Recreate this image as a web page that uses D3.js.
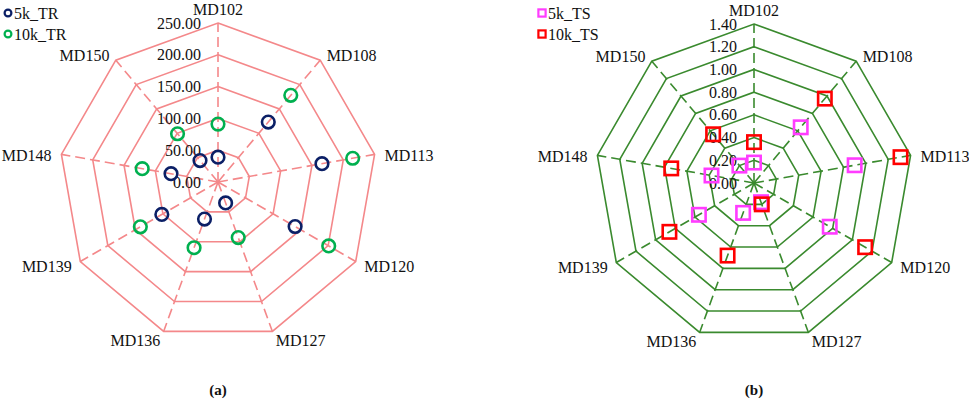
<!DOCTYPE html>
<html><head><meta charset="utf-8">
<script src="https://cdn.jsdelivr.net/npm/d3@7"></script>
<style>body{margin:0;background:#fff;}svg{display:block;}</style>
</head><body>
<svg id="c" width="969" height="399"></svg>
<script>
const categories = ["MD102","MD108","MD113","MD120","MD127","MD136","MD139","MD148","MD150"];
const tr5k  = [39, 123, 166, 140, 35, 62, 102, 75, 44];
const tr10k = [91, 178, 215, 201, 93, 110, 141, 121, 99];
const ts5k  = [0.18, 0.64, 0.90, 0.77, 0.18, 0.28, 0.56, 0.38, 0.20];
const ts10k = [0.36, 0.97, 1.31, 1.13, 0.20, 0.68, 0.86, 0.74, 0.56];
const ticksA = [0, 50, 100, 150, 200, 250];
const ticksB = [0, 0.2, 0.4, 0.6, 0.8, 1.0, 1.2, 1.4];
const seriesA = [{name:"5k_TR", values: tr5k, color:"#0b1f66"}, {name:"10k_TR", values: tr10k, color:"#00b04f"}];
const seriesB = [{name:"5k_TS", values: ts5k, color:"#ff3cff"}, {name:"10k_TS", values: ts10k, color:"#ff0000"}];

const svg = d3.select("#c");
const font = "'Liberation Serif','Times New Roman',serif";
const R = 159;

function radar(opts){
  const {cx, cy, ticks, series, gridColor, marker, legendX, caption} = opts;
  const g = svg.append("g").attr("transform", `translate(${cx},${cy})`);
  const r = d3.scaleLinear().domain([0, d3.max(ticks)]).range([0, R]);
  const ang = d3.scaleLinear().domain([0, categories.length]).range([0, 2*Math.PI]);
  const pt = (i, v) => [r(v)*Math.sin(ang(i)), -r(v)*Math.cos(ang(i))];
  // rings
  ticks.slice(1).forEach(t => {
    g.append("polygon")
      .attr("points", categories.map((c,i)=>pt(i,t).join(",")).join(" "))
      .attr("fill","none").attr("stroke",gridColor).attr("stroke-width",1.6);
  });
  // spokes
  categories.forEach((c,i)=>{
    const [x,y] = pt(i, d3.max(ticks));
    g.append("line").attr("x1",0).attr("y1",0).attr("x2",x).attr("y2",y)
      .attr("stroke",gridColor).attr("stroke-width",1.6).attr("stroke-dasharray","10,5");
  });
  // tick labels
  ticks.forEach(t=>{
    g.append("text").attr("x",-17).attr("y",-r(t)).attr("text-anchor","end")
      .attr("dominant-baseline","central").attr("font-family",font).attr("font-size",16)
      .attr("fill","#111").text(t.toFixed(2));
  });
  // category labels
  categories.forEach((c,i)=>{
    const a = ang(i);
    const rr = R + 10;
    let x = rr*Math.sin(a), y = -rr*Math.cos(a);
    const s = Math.sin(a);
    let anchor = Math.abs(s) < 0.1 ? "middle" : (s > 0 ? "start" : "end");
    if (i === 0) y -= 4;
    else if (Math.cos(a) > 0) y += 3;
    g.append("text").attr("x",x).attr("y",y).attr("text-anchor",anchor)
      .attr("dominant-baseline","central").attr("font-family",font).attr("font-size",16)
      .attr("fill","#111").text(c);
  });
  // markers
  series.forEach(s=>{
    s.values.forEach((v,i)=>{
      const [x,y] = pt(i,v);
      if (marker === "circle") {
        g.append("circle").attr("cx",x).attr("cy",y).attr("r",6.3)
          .attr("fill","none").attr("stroke",s.color).attr("stroke-width",2.6);
      } else {
        g.append("rect").attr("x",x-6.7).attr("y",y-6.7).attr("width",13.4).attr("height",13.4)
          .attr("fill","none").attr("stroke",s.color).attr("stroke-width",2.6);
      }
    });
  });
  // legend
  series.forEach((s,k)=>{
    const ly = 13 + k*21;
    if (marker === "circle") {
      svg.append("circle").attr("cx",legendX).attr("cy",ly).attr("r",3.4)
        .attr("fill","none").attr("stroke",s.color).attr("stroke-width",2.2);
    } else {
      svg.append("rect").attr("x",legendX-3.6).attr("y",ly-3.6).attr("width",7.2).attr("height",7.2)
        .attr("fill","none").attr("stroke",s.color).attr("stroke-width",2.2);
    }
    svg.append("text").attr("x",legendX+6).attr("y",ly).attr("dominant-baseline","central")
      .attr("font-family",font).attr("font-size",16).attr("fill","#111").text(s.name);
  });
  svg.append("text").attr("x",cx).attr("y",390).attr("text-anchor","middle")
    .attr("dominant-baseline","central").attr("font-family",font).attr("font-size",15)
    .attr("font-weight","bold").attr("fill","#111").text(caption);
}

radar({cx:218, cy:182, ticks:ticksA, series:seriesA, gridColor:"#f4888a", marker:"circle", legendX:8, caption:"(a)"});
radar({cx:754, cy:183, ticks:ticksB, series:seriesB, gridColor:"#3a8a2e", marker:"square", legendX:542, caption:"(b)"});
</script>
</body></html>
